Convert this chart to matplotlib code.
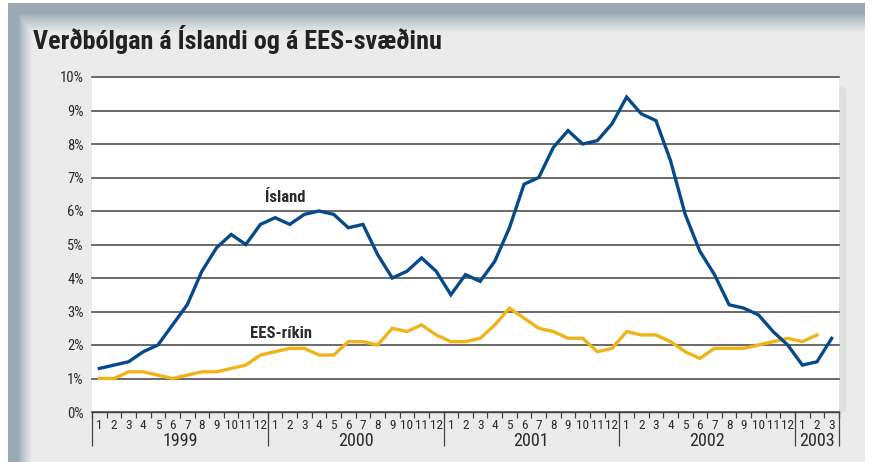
import numpy as np
import matplotlib
matplotlib.use('Agg')
import matplotlib.pyplot as plt
from matplotlib.patches import FancyBboxPatch
import matplotlib.transforms as mtransforms

# monthly inflation, Jan 1999 - Mar 2003 (%)
island = [1.3, 1.4, 1.5, 1.8, 2.0, 2.6, 3.2, 4.2, 4.9, 5.3, 5.0, 5.6,
          5.8, 5.6, 5.9, 6.0, 5.9, 5.5, 5.6, 4.7, 4.0, 4.2, 4.6, 4.2,
          3.5, 4.1, 3.9, 4.5, 5.5, 6.8, 7.0, 7.9, 8.4, 8.0, 8.1, 8.6,
          9.4, 8.9, 8.7, 7.5, 5.9, 4.8, 4.1, 3.2, 3.1, 2.9, 2.4, 2.0,
          1.4, 1.5, 2.2]
ees = [1.0, 1.0, 1.2, 1.2, 1.1, 1.0, 1.1, 1.2, 1.2, 1.3, 1.4, 1.7,
       1.8, 1.9, 1.9, 1.7, 1.7, 2.1, 2.1, 2.0, 2.5, 2.4, 2.6, 2.3,
       2.1, 2.1, 2.2, 2.6, 3.1, 2.8, 2.5, 2.4, 2.2, 2.2, 1.8, 1.9,
       2.4, 2.3, 2.3, 2.1, 1.8, 1.6, 1.9, 1.9, 1.9, 2.0, 2.1, 2.2,
       2.1, 2.3]
years = ['1999', '2000', '2001', '2002', '2003']
months_per_year = [12, 12, 12, 12, 3]
yticks = list(range(0, 11))

W, H = 874, 462
fam = ['Roboto Condensed', 'DejaVu Sans']
txtcol = '#2b2b2b'

fig = plt.figure(figsize=(W / 100, H / 100), dpi=100)
fig.patch.set_facecolor('white')

# background frame with blue-grey gradient on top and left edges
bg = np.ones((H, W, 3))
base = np.array([0.922, 0.925, 0.925])
blue = np.array([0.60, 0.67, 0.71])
yy, xx = np.mgrid[0:H, 0:W]
inside = (xx >= 8) & (xx < 865) & (yy >= 3)
t_top = np.clip((yy - 13) / 20.0, 0, 1)
t_left = np.clip((xx - 18) / 14.0, 0, 1)
t = np.minimum(t_top, t_left) ** 0.8
col = blue[None, None, :] + (base - blue)[None, None, :] * t[..., None]
bg[inside] = col[inside]
bax = fig.add_axes([0, 0, 1, 1], zorder=-10)
bax.imshow(bg, aspect='auto', extent=(0, W, H, 0))
bax.axis('off')

# soft shadow behind the white plot panel
shadow = FancyBboxPatch((92 / W, (H - 413) / H), (846 - 92) / W, (413 - 87) / H,
                        boxstyle='round,pad=0,rounding_size=0.008',
                        transform=fig.transFigure, facecolor='#dedfdf',
                        edgecolor='none', zorder=-5)
fig.patches.append(shadow)

ax = fig.add_axes([92 / W, (H - 412) / H, (839 - 92) / W, 335 / H])
ax.set_facecolor('white')

n = len(island)
x_is = np.arange(n) + 0.5
x_ee = np.arange(len(ees)) + 0.5
ax.plot(x_ee, ees, color='#f0b419', lw=2.4, solid_joinstyle='miter', zorder=3)
ax.plot(x_is, island, color='#064a8a', lw=2.4, solid_joinstyle='miter', zorder=4)

ax.set_xlim(0, n)
ax.set_ylim(0, 10)
ax.set_yticks(yticks)
ax.set_yticklabels([f'{v}%' for v in yticks], family=fam, fontsize=10.5, color=txtcol)
ax.tick_params(axis='y', length=0, pad=6)
ax.grid(axis='y', color='#505050', lw=1.2)
ax.set_axisbelow(True)
for gl in ax.get_ygridlines():
    gl.set_clip_on(False)

for s in ['left', 'right', 'top']:
    ax.spines[s].set_visible(False)
ax.spines['bottom'].set_color('#444444')
ax.spines['bottom'].set_linewidth(1.0)

# month labels
month_labels = []
for m in months_per_year:
    month_labels += [str(k) for k in range(1, m + 1)]
ax.set_xticks(x_is)
ax.set_xticklabels(month_labels, family=fam, fontsize=9.5, color=txtcol)
ax.tick_params(axis='x', length=0, pad=5)

trans = mtransforms.blended_transform_factory(ax.transData, ax.transAxes)
# month separators and year separators
bounds = np.cumsum([0] + months_per_year)
ax.vlines(np.arange(n + 1), -0.018, 0, transform=trans, color='#444444',
          lw=0.9, clip_on=False)
ax.vlines(bounds, -0.102, 0, transform=trans, color='#444444', lw=0.9,
          clip_on=False)
for i, yr in enumerate(years):
    ax.text((bounds[i] + bounds[i + 1]) / 2, -0.088, yr, transform=trans,
            ha='center', va='center', family=fam, fontsize=13, color=txtcol)

ax.text(13.2, 6.4, 'Ísland', ha='center', va='center', family=fam,
        fontsize=12, fontweight='bold', color=txtcol)
ax.text(12.9, 2.35, 'EES-ríkin', ha='center', va='center', family=fam,
        fontsize=12, fontweight='bold', color=txtcol)

fig.text(33 / W, 1 - 40 / H, 'Verðbólgan á Íslandi og á EES-svæðinu',
         ha='left', va='center', family=fam, fontsize=18.8,
         fontweight='bold', color='#222222')

fig.savefig('out.png', dpi=100)
